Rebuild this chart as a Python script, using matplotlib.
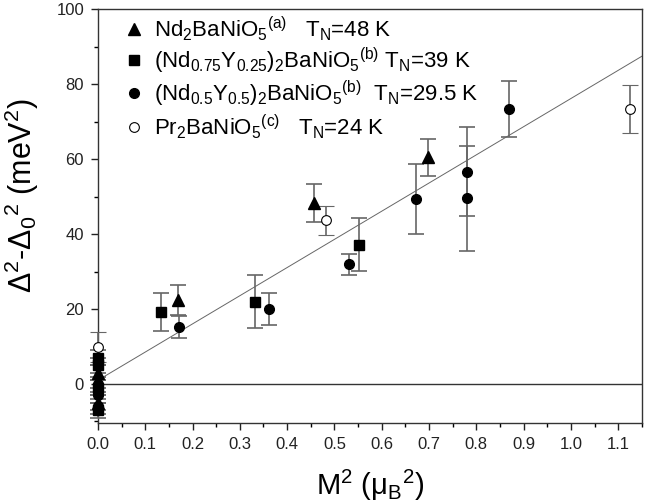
import numpy as np
import matplotlib
matplotlib.use("Agg")
import matplotlib.pyplot as plt
from matplotlib.ticker import MultipleLocator, FormatStrFormatter
from matplotlib.lines import Line2D

plt.rcParams['font.family'] = ['Liberation Sans', 'DejaVu Sans']
plt.rcParams['mathtext.default'] = 'regular'

# --- data ---
tri_x = [0.0, 0.0, 0.170, 0.457, 0.697]
tri_y = [3.0, -5.0, 22.5, 48.3, 60.5]
tri_e = [2.0, 2.0, 4.0, 5.0, 5.0]

sq_x = [0.0, 0.0, 0.0, 0.0, 0.133, 0.332, 0.552]
sq_y = [7.0, 5.0, -1.0, -7.0, 19.2, 22.0, 37.2]
sq_e = [2.0, 2.0, 2.0, 2.0, 5.0, 7.0, 7.0]

ci_x = [0.0, 0.0, 0.0, 0.171, 0.361, 0.531, 0.672, 0.780, 0.780, 0.870]
ci_y = [0.0, -3.0, -6.0, 15.2, 20.0, 32.0, 49.3, 56.7, 49.6, 73.5]
ci_e = [2.0, 2.0, 2.0, 3.0, 4.2, 2.8, 9.3, 11.8, 14.0, 7.5]

op_x = [0.0, 0.482, 1.125]
op_y = [10.0, 43.7, 73.3]
op_e = [4.0, 3.8, 6.4]

fit_intercept = 1.0
fit_slope = 75.2

labels = [r'Nd$_2$BaNiO$_5$$^{(a)}$   T$_N$=48 K',
          r'(Nd$_{0.75}$Y$_{0.25}$)$_2$BaNiO$_5$$^{(b)}$ T$_N$=39 K',
          r'(Nd$_{0.5}$Y$_{0.5}$)$_2$BaNiO$_5$$^{(b)}$  T$_N$=29.5 K',
          r'Pr$_2$BaNiO$_5$$^{(c)}$   T$_N$=24 K']

fig = plt.figure(figsize=(6.57, 5.04), dpi=100)
ax = fig.add_axes([0.149, 0.160, 0.828, 0.8215])

xlim = (0.0, 1.15)
ax.set_xlim(*xlim)
ax.set_ylim(-10.5, 100)

ax.axhline(0, color='#333333', lw=1.0, zorder=1)
fx = np.array(xlim)
ax.plot(fx, fit_intercept + fit_slope * fx, color='#666666', lw=0.7, zorder=1)

ekw = dict(ecolor='#666666', elinewidth=1.2, capsize=6, capthick=1.2, ls='none',
           zorder=3)
sets = [
    (tri_x, tri_y, tri_e, dict(fmt='^', color='black', ms=8)),
    (sq_x, sq_y, sq_e, dict(fmt='s', color='black', ms=6.5)),
    (ci_x, ci_y, ci_e, dict(fmt='o', color='black', ms=7)),
    (op_x, op_y, op_e, dict(fmt='o', mfc='white', mec='black', mew=0.8, color='black', ms=7)),
]
for x, y, e, kw in sets:
    cont = ax.errorbar(x, y, yerr=e, **ekw, **kw)
    for art in cont.get_children():
        art.set_clip_on(False)

hs = [Line2D([], [], marker='^', color='black', ls='none', ms=8),
      Line2D([], [], marker='s', color='black', ls='none', ms=6.5),
      Line2D([], [], marker='o', color='black', ls='none', ms=7),
      Line2D([], [], marker='o', mfc='white', mec='black', mew=0.8, ls='none', ms=7)]
ax.legend(hs, labels, loc='upper left', frameon=False, fontsize=16,
          handletextpad=0.4, labelspacing=0.13, borderaxespad=0.0,
          bbox_to_anchor=(0.03, 1.01), handlelength=1.0)

ax.xaxis.set_major_locator(MultipleLocator(0.1))
ax.xaxis.set_minor_locator(MultipleLocator(0.05))
ax.yaxis.set_major_locator(MultipleLocator(20))
ax.yaxis.set_minor_locator(MultipleLocator(10))
ax.xaxis.set_major_formatter(FormatStrFormatter('%.1f'))
ax.tick_params(which='major', direction='out', length=5, width=1, labelsize=12,
               colors='#222222', pad=5)
ax.tick_params(which='minor', direction='out', length=3, width=1)
for s in ax.spines.values():
    s.set_color('#333333')
    s.set_linewidth(1.0)

ax.set_xlabel(r'M$^2$ ($\mu_B$$^2$)', fontsize=21, labelpad=11)
ax.set_ylabel(r'$\Delta^2$-$\Delta_0$$^2$ (meV$^2$)', fontsize=22)
ax.yaxis.set_label_coords(-0.105, 0.55)

fig.savefig('out.png', dpi=100)
